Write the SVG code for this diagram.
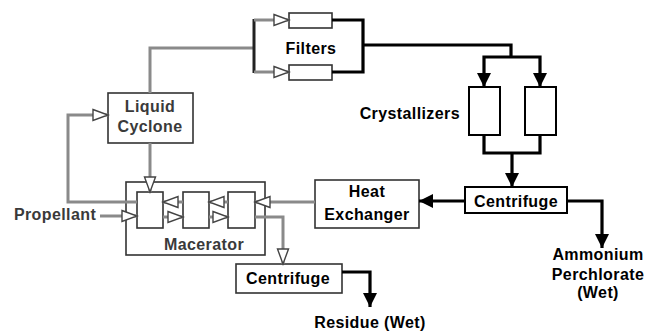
<svg xmlns="http://www.w3.org/2000/svg" width="645" height="334" viewBox="0 0 645 334">
<style>
  text { font-family: "Liberation Sans", Arial, sans-serif; font-weight: bold; font-size: 16px; letter-spacing: 0.4px; fill: #000; text-anchor: middle; }
  .gtx { fill: #3a3a3a; }
  .box { fill: #fff; stroke: #000; stroke-width: 2; }
  .gbox { fill: #fff; stroke: #333; stroke-width: 1.6; }
  .frame { fill: none; stroke: #333; stroke-width: 1.6; }
  .pipe { fill: none; stroke: #8a8a8a; stroke-width: 3; }
  .blk { fill: none; stroke: #000; stroke-width: 3.2; }
</style>
<defs>
  <marker id="ah" markerUnits="userSpaceOnUse" markerWidth="16" markerHeight="14" refX="14" refY="7" orient="auto">
    <path d="M0,0 L14,7 L0,14 Z" fill="#000"/>
  </marker>
  <marker id="hh" markerUnits="userSpaceOnUse" markerWidth="18" markerHeight="14" refX="16" refY="7" orient="auto">
    <path d="M1,1.5 L16,7 L1,12.5 Z" fill="#fff" stroke="#444" stroke-width="1.4"/>
  </marker>
</defs>

<g id="filters">
  <rect class="gbox" x="289" y="13" width="43" height="15"/>
  <rect class="gbox" x="289" y="65" width="43" height="15"/>
  <text x="311" y="54">Filters</text>
</g>

<g id="crystallizers">
  <rect class="box" x="469" y="87" width="31" height="48"/>
  <rect class="box" x="525" y="87" width="31" height="48"/>
  <text x="460" y="119" style="text-anchor:end">Crystallizers</text>
</g>

<g id="centrifuge-ap">
  <rect class="box" x="465" y="187" width="102" height="26"/>
  <text x="516" y="207">Centrifuge</text>
</g>

<g id="ammonium-perchlorate">
  <text x="598" y="260">Ammonium</text>
  <text x="598" y="280">Perchlorate</text>
  <text x="598" y="298">(Wet)</text>
</g>

<g id="heat-exchanger">
  <rect class="gbox" x="315" y="180" width="104" height="48"/>
  <text x="367" y="197">Heat</text>
  <text x="367" y="220">Exchanger</text>
</g>

<g id="liquid-cyclone">
  <rect class="gbox" x="108" y="93" width="85" height="50"/>
  <text class="gtx" x="150" y="112">Liquid</text>
  <text class="gtx" x="150" y="132">Cyclone</text>
</g>

<g id="macerator">
  <rect class="frame" x="126" y="182" width="139" height="73"/>
  <rect class="gbox" x="137" y="192" width="26" height="36"/>
  <rect class="gbox" x="183" y="192" width="26" height="36"/>
  <rect class="gbox" x="228" y="192" width="27" height="36"/>
  <text class="gtx" x="204" y="250">Macerator</text>
</g>

<g id="propellant">
  <text class="gtx" x="55" y="220">Propellant</text>
</g>

<g id="centrifuge-residue">
  <rect class="gbox" x="236" y="264" width="106" height="29"/>
  <text x="288" y="284">Centrifuge</text>
</g>

<g id="residue">
  <text x="370" y="328">Residue (Wet)</text>
</g>

<g id="connectors">
  <!-- grey process streams -->
  <path class="pipe" d="M150,93 V48 H254"/>
  <path d="M254,19 V73" fill="none" stroke="#222" stroke-width="3"/>
  <path class="pipe" d="M254,20 H289" marker-end="url(#hh)"/>
  <path class="pipe" d="M254,72 H289" marker-end="url(#hh)"/>
  <path class="pipe" d="M150,143 V192" marker-end="url(#hh)"/>
  <path class="pipe" d="M137,202 H68 V115 H108" marker-end="url(#hh)"/>
  <path class="pipe" d="M100,216 H137" marker-end="url(#hh)"/>
  <path class="pipe" d="M183,202 H163" marker-end="url(#hh)"/>
  <path class="pipe" d="M228,202 H209" marker-end="url(#hh)"/>
  <path class="pipe" d="M163,217 H183" marker-end="url(#hh)"/>
  <path class="pipe" d="M209,217 H228" marker-end="url(#hh)"/>
  <path class="pipe" d="M315,202 H255" marker-end="url(#hh)"/>
  <path class="pipe" d="M255,217 H283 V264" marker-end="url(#hh)"/>
  <!-- black streams -->
  <path class="blk" d="M332,20 H363 V72 H332"/>
  <path class="blk" d="M363,45 H511 V57"/>
  <path class="blk" d="M511,57 H484 V87" marker-end="url(#ah)"/>
  <path class="blk" d="M511,57 H540 V87" marker-end="url(#ah)"/>
  <path class="blk" d="M484,135 V153 H540 V135"/>
  <path class="blk" d="M512,153 V187" marker-end="url(#ah)"/>
  <path class="blk" d="M465,201 H419" marker-end="url(#ah)"/>
  <path class="blk" d="M567,201 H602 V248" marker-end="url(#ah)"/>
  <path class="blk" d="M342,272 H370 V307" marker-end="url(#ah)"/>
</g>
</svg>
